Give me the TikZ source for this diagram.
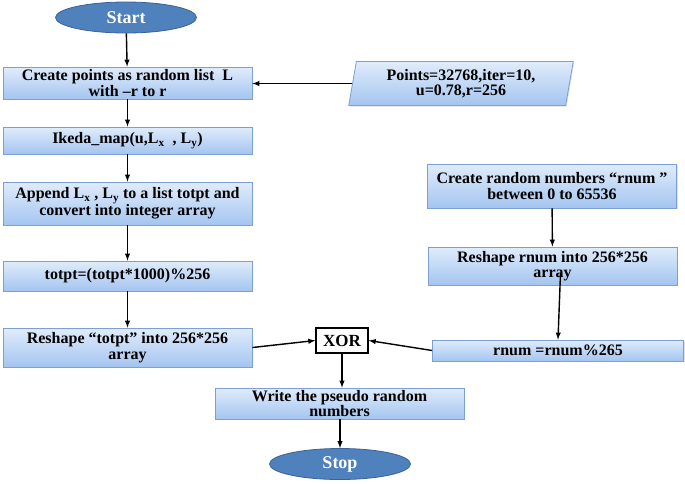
\documentclass[tikz,border=0pt]{standalone}
\usepackage{fontspec}
\setmainfont{Liberation Serif}
\usetikzlibrary{shapes.geometric,shadows}
\definecolor{bt}{RGB}{224,236,251}
\definecolor{bb}{RGB}{164,197,240}
\definecolor{bd}{RGB}{124,160,212}
\definecolor{ov}{RGB}{79,129,189}
\definecolor{ovd}{RGB}{58,98,148}

\begin{document}
\begin{tikzpicture}[
every node/.style={font=\fontsize{16}{15.5}\selectfont\bfseries, align=center, inner sep=1pt},
procbox/.style={rectangle, draw=bd, line width=0.8pt, top color=bt, bottom color=bb, minimum width=249pt, drop shadow={shadow xshift=1pt, shadow yshift=-1pt, opacity=0.25}},
termin/.style={ellipse, fill=ov, draw=ovd, line width=0.8pt, text=white, font=\fontsize{18}{18}\selectfont\bfseries, minimum width=141pt, minimum height=31pt},
inbox/.style={trapezium, trapezium left angle=80, trapezium right angle=100, trapezium stretches=true, draw=bd, line width=0.8pt, top color=bt, bottom color=bb, minimum width=225pt, minimum height=44pt, drop shadow={shadow xshift=1pt, shadow yshift=-1pt, opacity=0.25}},
xorbox/.style={rectangle, draw=black, line width=1.4pt, fill=white, font=\fontsize{17}{17}\selectfont\bfseries, minimum width=52pt, minimum height=25pt},
arr/.style={line width=1.4pt, -latex}]
\useasboundingbox (0pt,0pt) rectangle (685pt,-483pt);
\node (start) [termin] at (126pt, -17.5pt) {Start};
\node (pts) [procbox, minimum height=32pt] at (127.5pt, -83pt) {Create points as random list \ L\\with --r to r};
\node (ikeda) [procbox, minimum height=27pt] at (127.5pt, -140.5pt) {Ikeda\_map(u,L\textsubscript{x}\ \ , L\textsubscript{y})};
\node (append) [procbox, minimum height=43pt] at (127.5pt, -203.5pt) {Append L\textsubscript{x}\ , L\textsubscript{y} to a list totpt and\\convert into integer array};
\node (modpt) [procbox, minimum height=30pt] at (127.5pt, -276pt) {totpt=(totpt*1000)\%256};
\node (reshpt) [procbox, minimum height=39pt] at (127.5pt, -347.5pt) {Reshape “totpt” into 256*256\\array};
\node (params) [inbox] at (461pt, -83.5pt) {Points=32768,iter=10,\\u=0.78,r=256};
\node (rgen) [procbox, minimum height=44pt] at (552pt, -186pt) {Create random numbers “rnum ”\\between 0 to 65536};
\node (reshr) [procbox, minimum height=38pt] at (552.5pt, -266pt) {Reshape rnum into 256*256\\array};
\node (modr) [procbox, minimum height=21pt, minimum width=251pt] at (558pt, -350.5pt) {rnum =rnum\%265};
\node (xor) [xorbox] at (342pt, -340.5pt) {XOR};
\node (write) [procbox, minimum height=31pt] at (339.5pt, -403.5pt) {Write the pseudo random\\numbers};
\node (stop) [termin] at (340pt, -464pt) {Stop};
\draw [arr] (start) to (pts);
\draw [arr] (pts) to (ikeda);
\draw [arr] (ikeda) to (append);
\draw [arr] (append) to (modpt);
\draw [arr] (modpt) to (reshpt);
\draw [arr] (params.west) to (pts.east |- params.west);
\draw [arr] (rgen) to (reshr);
\draw [arr] ([shift={(8pt,-7pt)}]reshr.center) to (modr.north);
\draw [arr] (reshpt.east) to (xor.west);
\draw [arr] (modr.west) to (xor.east);
\draw [arr] (xor.south) to (write.north -| xor.south);
\draw [arr] (write.south -| stop.north) to (stop.north);
\end{tikzpicture}
\end{document}
